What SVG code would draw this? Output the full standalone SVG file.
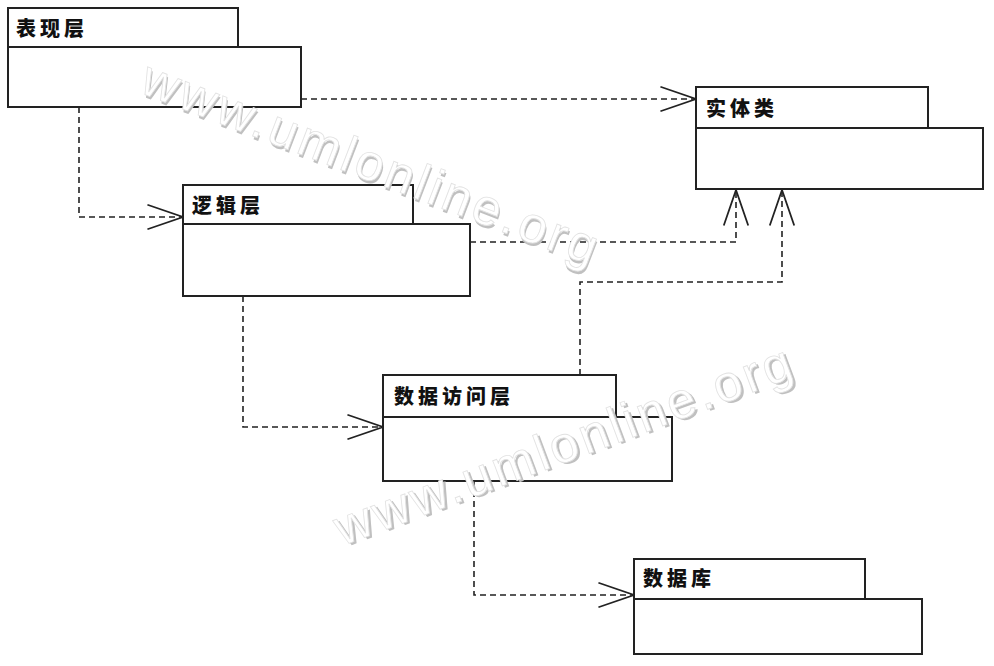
<svg xmlns="http://www.w3.org/2000/svg" width="994" height="666" viewBox="0 0 994 666">
<style>
.box{fill:#fff;stroke:#222;stroke-width:2}
.lbl{font-family:"Noto Sans CJK SC","Noto Sans",sans-serif;font-weight:900;font-size:20px;letter-spacing:4px;fill:#111}
.dep{fill:none;stroke:#222;stroke-width:1.6;stroke-dasharray:6 4;marker-end:url(#open)}
.wm{font-family:"Liberation Sans",Arial,sans-serif;font-size:51px;letter-spacing:3.5px}
.wms{fill:#c0c0c0}
.wmf{fill:#fff;stroke:#e2e2e2;stroke-width:0.8}
</style>
<defs>
<marker id="open" markerUnits="userSpaceOnUse" markerWidth="40" markerHeight="30" viewBox="-34 -13 36 26" refX="0" refY="0" orient="auto">
<path d="M-32,-11 L0,0 L-32,11" fill="none" stroke="#222" stroke-width="1.6"/>
</marker>
</defs>
<rect width="994" height="666" fill="#fff"/>
<g id="connectors">
<path class="dep" d="M301,99 H696"/>
<path class="dep" d="M79,107 V217 H183"/>
<path class="dep" d="M470,242 H736 V190"/>
<path class="dep" d="M580,375 V282 H782 V190"/>
<path class="dep" d="M243,296 V427 H383"/>
<path class="dep" d="M474,481 V595 H634"/>
</g>
<g id="presentation">
<rect class="box" x="8" y="8" width="230" height="39"/>
<rect class="box" x="8" y="47" width="293" height="60"/>
<text class="lbl" x="16" y="36">表现层</text>
</g>
<g id="entity">
<rect class="box" x="696" y="87" width="232" height="41"/>
<rect class="box" x="696" y="128" width="287" height="61"/>
<text class="lbl" x="706" y="116">实体类</text>
</g>
<g id="logic">
<rect class="box" x="183" y="185" width="230" height="39"/>
<rect class="box" x="183" y="224" width="287" height="72"/>
<text class="lbl" x="192" y="213">逻辑层</text>
</g>
<g id="dataaccess">
<rect class="box" x="383" y="375" width="233" height="42"/>
<rect class="box" x="383" y="417" width="289" height="64"/>
<text class="lbl" x="394" y="404">数据访问层</text>
</g>
<g id="database">
<rect class="box" x="634" y="559" width="231" height="40"/>
<rect class="box" x="634" y="599" width="288" height="55"/>
<text class="lbl" x="643" y="586">数据库</text>
</g>
<g id="watermark">
<g transform="translate(138,92) rotate(21)">
<text class="wm wms" x="2" y="2.5">www.umlonline.org</text>
<text class="wm wmf" x="0" y="0">www.umlonline.org</text>
</g>
<g transform="translate(342,546) rotate(-20.5)">
<text class="wm wms" x="2" y="2.5">www.umlonline.org</text>
<text class="wm wmf" x="0" y="0">www.umlonline.org</text>
</g>
</g>
</svg>
